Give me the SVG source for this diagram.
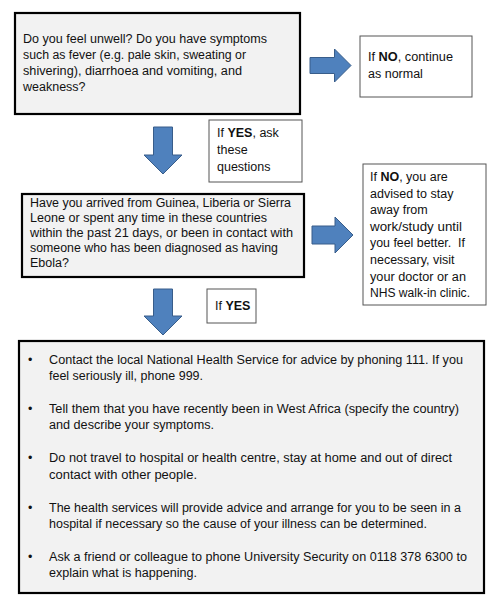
<svg xmlns="http://www.w3.org/2000/svg" width="500" height="614" viewBox="0 0 500 614">
<style>
.q{fill:#f2f2f2;stroke:#000;stroke-width:2.2}
.n{fill:#fff;stroke:#555;stroke-width:1}
.a{fill:#4f81bd;stroke:#385d8a;stroke-width:1}
text{font-family:"Liberation Sans",Arial,sans-serif;font-size:12.5px;fill:#111}
.b{font-weight:bold}
</style>
<rect width="500" height="614" fill="#fff"/>
<g id="connectors">
<path class="a" d="M310,57.5 H334.5 V49 L351,65.5 L334.5,82 V73.5 H310 Z"/>
<path class="a" d="M312,226 H335 V217 L353,235 L335,253 V244 H312 Z"/>
<path class="a" d="M153.5,127 H172.5 V155 H182 L163,174 L144,155 H153.5 Z"/>
<path class="a" d="M153.5,289 H172.5 V316 H182 L163,335 L144,316 H153.5 Z"/>
</g>
<g id="q1">
<rect class="q" x="15" y="13" width="285" height="101"/>
<text x="23" y="42.5" textLength="244" lengthAdjust="spacingAndGlyphs">Do you feel unwell? Do you have symptoms</text>
<text x="23" y="58.7" textLength="223" lengthAdjust="spacingAndGlyphs">such as fever (e.g. pale skin, sweating or</text>
<text x="23" y="74.9" textLength="219" lengthAdjust="spacingAndGlyphs">shivering), diarrhoea and vomiting, and</text>
<text x="23" y="91.1">weakness?</text>
</g>
<g id="no1">
<rect class="n" x="360" y="36" width="112" height="61"/>
<text x="368" y="61" textLength="85" lengthAdjust="spacingAndGlyphs">If <tspan class="b">NO</tspan>, continue</text>
<text x="368" y="77.5">as normal</text>
</g>
<g id="yes1">
<rect class="n" x="209" y="120" width="93" height="62"/>
<text x="217" y="137">If <tspan class="b">YES</tspan>, ask</text>
<text x="217" y="154">these</text>
<text x="217" y="171">questions</text>
</g>
<g id="q2">
<rect class="q" x="22" y="194" width="282" height="83"/>
<text x="30" y="207" textLength="261" lengthAdjust="spacingAndGlyphs">Have you arrived from Guinea, Liberia or Sierra</text>
<text x="30" y="222" textLength="237" lengthAdjust="spacingAndGlyphs">Leone or spent any time in these countries</text>
<text x="30" y="237" textLength="263" lengthAdjust="spacingAndGlyphs">within the past 21 days, or been in contact with</text>
<text x="30" y="252" textLength="248" lengthAdjust="spacingAndGlyphs">someone who has been diagnosed as having</text>
<text x="30" y="267">Ebola?</text>
</g>
<g id="no2">
<rect class="n" x="363" y="164" width="123" height="141"/>
<text x="370" y="181">If <tspan class="b">NO</tspan>, you are</text>
<text x="370" y="197.6">advised to stay</text>
<text x="370" y="214.2">away from</text>
<text x="370" y="230.8" textLength="92" lengthAdjust="spacingAndGlyphs">work/study until</text>
<text x="370" y="247.4" textLength="95" lengthAdjust="spacingAndGlyphs" style="white-space:pre">you feel better.  If</text>
<text x="370" y="264">necessary, visit</text>
<text x="370" y="280.6" textLength="96" lengthAdjust="spacingAndGlyphs">your doctor or an</text>
<text x="370" y="297.2" textLength="100" lengthAdjust="spacingAndGlyphs">NHS walk-in clinic.</text>
</g>
<g id="yes2">
<rect class="n" x="207" y="289" width="49" height="34"/>
<text x="215" y="310">If <tspan class="b">YES</tspan></text>
</g>
<g id="actions">
<rect class="q" x="19" y="341" width="465" height="252"/>
<text x="28" y="364">•</text>
<text x="49" y="364" textLength="414" lengthAdjust="spacingAndGlyphs">Contact the local National Health Service for advice by phoning 111. If you</text>
<text x="49" y="380.3" textLength="154" lengthAdjust="spacingAndGlyphs">feel seriously ill, phone 999.</text>
<text x="28" y="413">•</text>
<text x="49" y="413" textLength="410" lengthAdjust="spacingAndGlyphs">Tell them that you have recently been in West Africa (specify the country)</text>
<text x="49" y="429.3" textLength="165" lengthAdjust="spacingAndGlyphs">and describe your symptoms.</text>
<text x="28" y="462.3">•</text>
<text x="49" y="462.3" textLength="403" lengthAdjust="spacingAndGlyphs">Do not travel to hospital or health centre, stay at home and out of direct</text>
<text x="49" y="478.6" textLength="148" lengthAdjust="spacingAndGlyphs">contact with other people.</text>
<text x="28" y="511.6">•</text>
<text x="49" y="511.6" textLength="412" lengthAdjust="spacingAndGlyphs">The health services will provide advice and arrange for you to be seen in a</text>
<text x="49" y="527.9" textLength="378" lengthAdjust="spacingAndGlyphs">hospital if necessary so the cause of your illness can be determined.</text>
<text x="28" y="560.9">•</text>
<text x="49" y="560.9" textLength="418" lengthAdjust="spacingAndGlyphs">Ask a friend or colleague to phone University Security on 0118 378 6300 to</text>
<text x="49" y="577.2" textLength="148" lengthAdjust="spacingAndGlyphs">explain what is happening.</text>
</g>
</svg>
